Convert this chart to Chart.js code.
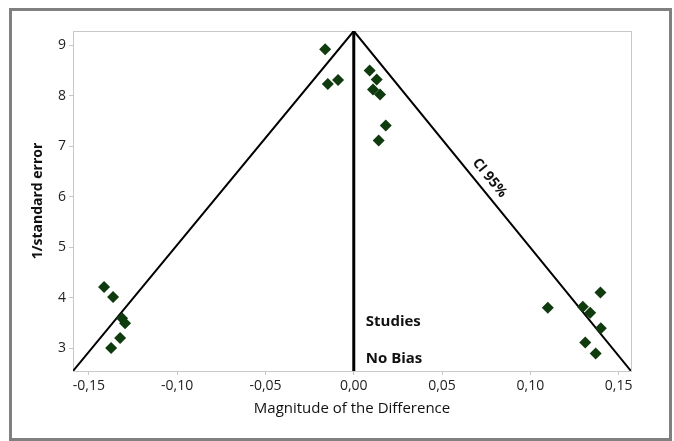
<!DOCTYPE html>
<html>
<head>
<meta charset="utf-8">
<script src="https://cdn.jsdelivr.net/npm/chart.js@4.4.0/dist/chart.umd.min.js"></script>
<style>
  html, body { margin: 0; padding: 0; background: #fff; }
  #wrap { position: relative; width: 674px; height: 441px; }
  #frame { position: absolute; left: 9px; top: 8px; width: 657px; height: 427px; border: 3px solid #808080; pointer-events: none; }
  canvas { position: absolute; left: 0; top: 0; }
</style>
</head>
<body>
<div id="wrap">
  <canvas id="funnel" width="674" height="441"></canvas>
  <div id="frame"></div>
</div>
<script>
// studies: verschil en 1/standaardfout
const diffs = [-0.1414, -0.1363, -0.1312, -0.1295, -0.1323, -0.1374,
  -0.0162, -0.0089, -0.0147, 0.0090, 0.0130, 0.0109, 0.0149, 0.0181, 0.0141,
  0.1397, 0.1099, 0.1297, 0.1339, 0.1399, 0.1311, 0.1370];
const invSE = [4.21, 4.01, 3.59, 3.49, 3.20, 3.00,
  8.92, 8.31, 8.23, 8.50, 8.32, 8.12, 8.02, 7.41, 7.11,
  4.10, 3.80, 3.82, 3.70, 3.39, 3.11, 2.89];

// trechter (CI 95%) en no-bias lijn
const funnelX = [-0.159, 0, 0.157];
const funnelY = [2.545, 9.28, 2.545];
const biasX = [0, 0];
const biasY = [2.545, 9.28];

const xMin = -0.159, xMax = 0.157;
const yMin = 2.545, yMax = 9.28;

const labels = [
  { text: 'Studies', x: 0.0068, y: 3.515 },
  { text: 'No Bias', x: 0.0068, y: 2.78 }
];
const ciLabel = { text: 'CI 95%', x: 0.0769, y: 6.37 };

const fontFam = '"Open Sans", "DejaVu Sans", sans-serif';

const textPlugin = {
  id: 'texts',
  beforeDatasetsDraw(chart) {
    const { ctx, chartArea: a } = chart;
    ctx.save();
    ctx.strokeStyle = '#c8c8c8';
    ctx.lineWidth = 1;
    ctx.strokeRect(a.left + 0.5, a.top + 0.5, a.right - a.left, a.bottom - a.top);
    ctx.restore();
  },
  afterDatasetsDraw(chart) {
    const { ctx, scales: { x, y } } = chart;
    ctx.save();
    ctx.fillStyle = '#111';
    ctx.font = 'bold 15px ' + fontFam;
    ctx.textAlign = 'left';
    ctx.textBaseline = 'middle';
    labels.forEach(l => ctx.fillText(l.text, x.getPixelForValue(l.x), y.getPixelForValue(l.y)));

    // tekst langs de rechterlijn
    const x0 = x.getPixelForValue(funnelX[1]), y0 = y.getPixelForValue(funnelY[1]);
    const x1 = x.getPixelForValue(funnelX[2]), y1 = y.getPixelForValue(funnelY[2]);
    const ang = Math.atan2(y1 - y0, x1 - x0);
    ctx.translate(x.getPixelForValue(ciLabel.x), y.getPixelForValue(ciLabel.y));
    ctx.rotate(ang);
    ctx.font = 'bold 14px ' + fontFam;
    ctx.textAlign = 'center';
    ctx.fillText(ciLabel.text, 0, 0);
    ctx.restore();
  }
};

const fmt = v => (Math.abs(v) < 1e-9 ? 0 : v).toFixed(2).replace('.', ',');

new Chart(document.getElementById('funnel'), {
  type: 'scatter',
  data: {
    datasets: [
      {
        data: funnelX.map((v, i) => ({ x: v, y: funnelY[i] })),
        showLine: true,
        borderColor: '#000',
        borderWidth: 2,
        pointRadius: 0,
        order: 2
      },
      {
        data: biasX.map((v, i) => ({ x: v, y: biasY[i] })),
        showLine: true,
        borderColor: '#000',
        borderWidth: 3,
        pointRadius: 0,
        order: 2
      },
      {
        data: diffs.map((v, i) => ({ x: v, y: invSE[i] })),
        pointStyle: 'rectRot',
        pointRadius: 6,
        backgroundColor: '#0f3b0f',
        borderColor: '#0f3b0f',
        borderWidth: 0,
        order: 1
      }
    ]
  },
  options: {
    responsive: false,
    animation: false,
    layout: { padding: { top: 31, right: 43, left: 0, bottom: 0 } },
    plugins: { legend: { display: false }, tooltip: { enabled: false } },
    scales: {
      x: {
        type: 'linear',
        min: xMin,
        max: xMax,
        afterFit: s => { s.height = 70; },
        border: { color: '#c8c8c8' },
        grid: { drawOnChartArea: false, drawTicks: true, tickLength: 4, color: '#c8c8c8' },
        ticks: {
          stepSize: 0.05,
          includeBounds: false,
          padding: 3,
          color: '#222',
          font: { family: fontFam, size: 14 },
          callback: v => fmt(v)
        },
        title: {
          display: true,
          text: 'Magnitude of the Difference',
          color: '#111',
          font: { family: fontFam, size: 15 },
          padding: { top: 0, bottom: 23 }
        }
      },
      y: {
        type: 'linear',
        min: yMin,
        max: yMax,
        afterFit: s => { s.width = 73; },
        border: { color: '#c8c8c8' },
        grid: { drawOnChartArea: false, drawTicks: true, tickLength: 4, color: '#c8c8c8' },
        ticks: {
          stepSize: 1,
          includeBounds: false,
          padding: 3,
          color: '#222',
          font: { family: fontFam, size: 14 },
          callback: v => String(v)
        },
        title: {
          display: true,
          text: '1/standard error',
          color: '#111',
          font: { family: fontFam, size: 14, weight: 'bold' },
          padding: { top: 30, bottom: 0 }
        }
      }
    }
  },
  plugins: [textPlugin]
});
</script>
</body>
</html>
